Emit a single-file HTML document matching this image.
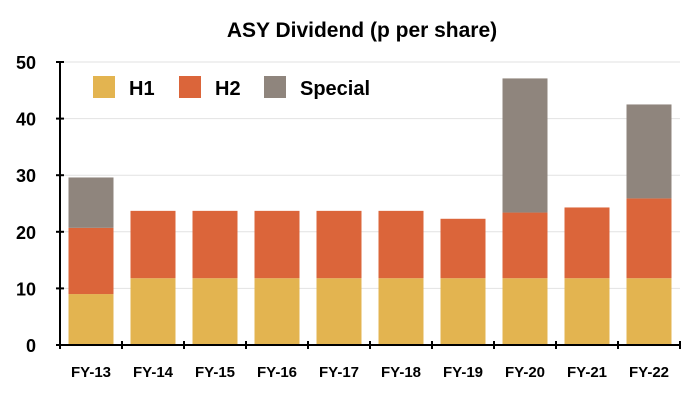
<!DOCTYPE html>
<html><head><meta charset="utf-8"><style>
body{margin:0;background:#fff;}
svg{display:block;font-family:"Liberation Sans",Arial,sans-serif;font-weight:bold;}
</style></head><body>
<svg id="chart" width="700" height="400">
<text x="362" y="37" text-anchor="middle" font-size="21">ASY Dividend (p per share)</text>
<g id="grid"></g><g id="bars"></g><g id="axes"></g>
<g>
<rect x="93" y="76" width="22" height="22" fill="#e3b450"/>
<text x="129" y="95" font-size="20">H1</text>
<rect x="179" y="76" width="22" height="22" fill="#db653a"/>
<text x="215" y="95" font-size="20">H2</text>
<rect x="264" y="76" width="22" height="22" fill="#8f857d"/>
<text x="300" y="95" font-size="20">Special</text>
</g>
</svg>
<script>
const categories=["FY-13","FY-14","FY-15","FY-16","FY-17","FY-18","FY-19","FY-20","FY-21","FY-22"];
const h1=[9,11.8,11.8,11.8,11.8,11.8,11.8,11.8,11.8,11.8];
const h2=[11.7,11.9,11.9,11.9,11.9,11.9,10.5,11.6,12.5,14.1];
const special=[8.9,0,0,0,0,0,0,23.7,0,16.6];
const yTicks=[0,10,20,30,40,50];
const NS="http://www.w3.org/2000/svg";
const x0=60,x1=680,yb=345,yt=62,ymax=50;
const band=(x1-x0)/categories.length,bw=45;
const y=v=>yb-(v/ymax)*(yb-yt);
const xc=i=>x0+band*(i+0.5);
function mk(t,a,p){const e=document.createElementNS(NS,t);for(const k in a)e.setAttribute(k,a[k]);p.appendChild(e);return e;}
const grid=document.getElementById('grid'),bars=document.getElementById('bars'),axes=document.getElementById('axes');
yTicks.forEach(t=>{
 if(t>0){const g=mk('line',{x1:x0,x2:x1,y1:y(t),y2:y(t),stroke:'#e2e2e2','stroke-width':1},grid);
 
 }
 const tk=mk('line',{x1:x0-4,x2:x0+4,y1:y(t),y2:y(t),stroke:'#000','stroke-width':2},axes);
 
 
 const lb=mk('text',{x:x0-24,y:y(t)+7,'text-anchor':'end','font-size':18},axes);lb.textContent=t;
 
 
});
const series=[[h1,'#e3b450','h1'],[h2,'#db653a','h2'],[special,'#8f857d','special']];
categories.forEach((c,i)=>{
 let base=0;
 series.forEach(([arr,col,nm])=>{
  const v=arr[i];if(v>0){
   const r=mk('rect',{x:xc(i)-bw/2,y:y(base+v),width:bw,height:y(base)-y(base+v),fill:col},bars);
   
   
  }
  base+=v;
 });
 const lb=mk('text',{x:xc(i),y:377,'text-anchor':'middle','font-size':15},axes);lb.textContent=c;
 
 
});
for(let i=0;i<=categories.length;i++){
 const tk=mk('line',{x1:x0+band*i,x2:x0+band*i,y1:yb-4,y2:yb+4,stroke:'#000','stroke-width':2},axes);
 
 
}
const ya=mk('line',{x1:x0,x2:x0,y1:yt,y2:yb,stroke:'#000','stroke-width':2},axes);


const xa=mk('line',{x1:x0,x2:x1,y1:yb,y2:yb,stroke:'#000','stroke-width':2},axes);


</script>
</body></html>
